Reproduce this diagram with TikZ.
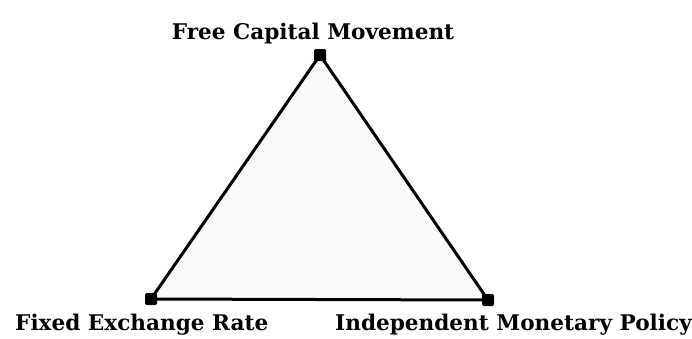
\documentclass[tikz,border=0pt]{standalone}
\usepackage{fontspec}
\setmainfont{DejaVu Serif}
\begin{document}
\begin{tikzpicture}[x=1pt,y=-1pt,
  vertex/.style={fill=black,inner sep=0pt,minimum size=12pt,rectangle,rounded corners=1.5pt},
  side/.style={line width=3pt,fill=black!2},
  lab/.style={font=\bfseries\fontsize{21.6}{24}\selectfont,inner sep=0pt}]
\useasboundingbox (0,0) rectangle (692,338);
\coordinate (ptop) at (320,55);
\coordinate (pbl) at (151,299);
\coordinate (pbr) at (488,300);
\draw[side] (ptop) -- (pbl) -- (pbr) -- cycle;
\node[vertex] (top) at (ptop) {};
\node[vertex] (bl) at (pbl) {};
\node[vertex] (br) at (pbr) {};
\node[lab,anchor=base] (tl) at (313,39) {Free Capital Movement};
\node[lab,anchor=base west] (fl) at (15,330) {Fixed Exchange Rate};
\node[lab,anchor=base west] (il) at (335,330) {Independent Monetary Policy};
\end{tikzpicture}
\end{document}
